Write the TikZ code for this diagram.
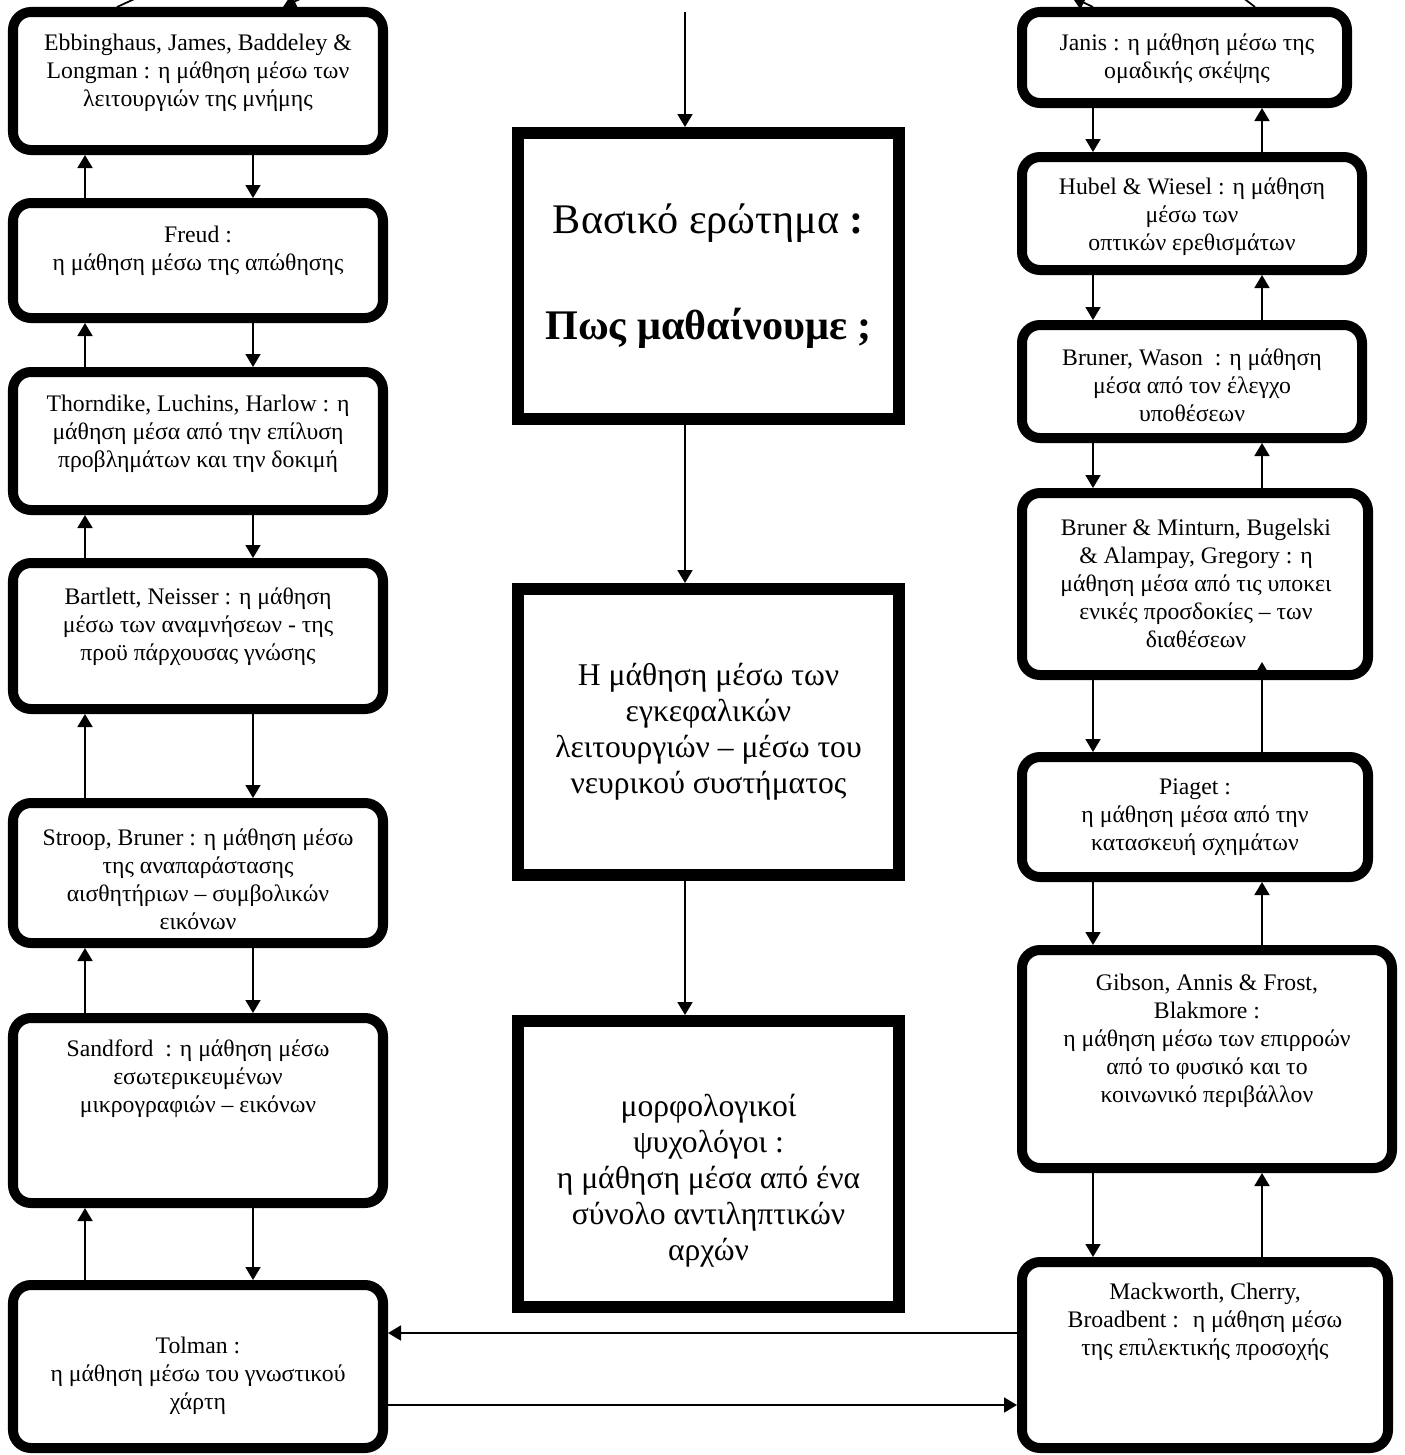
\documentclass[tikz,border=0pt]{standalone}
\usepackage{fontspec}
\setmainfont{Liberation Serif}
\usetikzlibrary{arrows.meta, positioning}

\begin{document}
\begin{tikzpicture}[
  x=0.02cm, y=-0.02cm,
  sbox/.style={draw, line width=5.7pt, rounded corners=0.36cm, inner sep=0pt, outer sep=2.85pt},
  mbox/.style={draw, line width=6.8pt, inner sep=0pt, outer sep=3.4pt, align=center,
    minimum width=381*0.02cm, minimum height=286*0.02cm},
  dims/.style 2 args={minimum width=#1*0.02cm, minimum height=#2*0.02cm},
  stxt/.style={align=center, inner sep=0pt, font=\fontsize{13.5}{16}\selectfont},
  mtxt/.style={align=center, inner sep=0pt, font=\fontsize{18}{20.5}\selectfont},
  conn/.style={line width=1pt, -{Triangle[length=0.26cm, width=0.3cm]}},
  tie/.style={line width=1pt}
]

\useasboundingbox (0,0) rectangle (1405,1455);
\clip (0,0) rectangle (1405,1455);

% columns and rows of the connectors
\coordinate (lu) at (85,0);
\coordinate (ld) at (253,0);
\coordinate (mc) at (685,0);
\coordinate (rd) at (1093,0);
\coordinate (ru) at (1262,0);
\coordinate (hu) at (0,1333);
\coordinate (hd) at (0,1405);

% left column
\node[sbox, dims={370}{138}] (ebb) at (198,81) {};
\node[stxt] (ebbtxt) at (198,72.5) {Ebbinghaus, James, Baddeley \&\\Longman : η μάθηση μέσω των\\λειτουργιών της μνήμης};

\node[sbox, dims={370}{115}] (freud) at (198,260.5) {};
\node[stxt] (freudtxt) at (198,251) {Freud :\\η μάθηση μέσω της απώθησης};

\node[sbox, dims={370}{138}] (thorn) at (198,441) {};
\node[stxt] (thorntxt) at (198,433.5) {Thorndike, Luchins, Harlow : η\\μάθηση μέσα από την επίλυση\\προβλημάτων και την δοκιμή};

\node[sbox, dims={370}{146}] (bart) at (198,636) {};
\node[stxt] (barttxt) at (198,626.5) {Bartlett, Neisser : η μάθηση\\μέσω των αναμνήσεων - της\\προϋ πάρχουσας γνώσης};

\node[sbox, dims={370}{140}] (stroop) at (198,873) {};
\node[stxt] (strooptxt) at (198,879) {Stroop, Bruner : η μάθηση μέσω\\της αναπαράστασης\\αισθητήριων – συμβολικών\\εικόνων};

\node[sbox, dims={370}{185}] (sand) at (198,1110.5) {};
\node[stxt] (sandtxt) at (198,1079) {Sandford \ : η μάθηση μέσω\\εσωτερικευμένων\\μικρογραφιών – εικόνων};

\node[sbox, dims={370}{163}] (tol) at (198,1366.5) {};
\node[stxt] (toltxt) at (198,1376) {Tolman :\\η μάθηση μέσω του γνωστικού\\χάρτη};

% middle column
\node[mbox, font=\fontsize{24}{28}\selectfont] (basic) at (708.5,276) {Βασικό ερώτημα \textbf{:}\\[32pt]\textbf{Πως μαθαίνουμε ;}};
\node[mbox, font=\fontsize{18}{20.5}\selectfont] (brain) at (708.5,732) {Η μάθηση μέσω των\\εγκεφαλικών\\λειτουργιών – μέσω του\\νευρικού συστήματος};
\node[mbox] (gestalt) at (708.5,1164) {};
\node[mtxt] (gestalttxt) at (708.5,1181) {μορφολογικοί\\ψυχολόγοι :\\η μάθηση μέσα από ένα\\σύνολο αντιληπτικών\\αρχών};

% right column
\node[sbox, dims={325}{91}] (janis) at (1184.5,57.5) {};
\node[stxt] (janistxt) at (1187,58.5) {Janis : η μάθηση μέσω της\\ομαδικής σκέψης};

\node[sbox, dims={340}{113}] (hubel) at (1192,213.5) {};
\node[stxt] (hubeltxt) at (1192,216.5) {Hubel \& Wiesel : η μάθηση\\μέσω των\\ οπτικών ερεθισμάτων};

\node[sbox, dims={340}{113}] (wason) at (1192,381.5) {};
\node[stxt] (wasontxt) at (1192,385) {Bruner, Wason \ : η μάθηση\\μέσα από τον έλεγχο\\υποθέσεων};

\node[sbox, dims={346}{182}] (mint) at (1195,584) {};
\node[stxt] (minttxt) at (1196,583.5) {Bruner \& Minturn, Bugelski\\\& Alampay, Gregory : η\\μάθηση μέσα από τις υποκει\\ενικές προσδοκίες – των\\διαθέσεων};

\node[sbox, dims={346}{120}] (piaget) at (1195,817) {};
\node[stxt] (piagettxt) at (1195,817) {Piaget :\\η μάθηση μέσα από την\\κατασκευή σχημάτων};

\node[sbox, dims={370}{218}] (gibson) at (1207,1059) {};
\node[stxt] (gibsontxt) at (1207,1041) {Gibson, Annis \& Frost,\\Blakmore :\\η μάθηση μέσω των επιρροών\\από το φυσικό και το\\κοινωνικό περιβάλλον};

\node[sbox, dims={366}{186}] (mack) at (1205,1355) {};
\node[stxt] (macktxt) at (1205,1322) {Mackworth, Cherry,\\Broadbent : \ η μάθηση μέσω\\της επιλεκτικής προσοχής};

% lines coming in from above the page
\coordinate (offa) at (154,-10);
\coordinate (ina) at (117,0);
\coordinate (offb) at (319,-10);
\coordinate (inb) at (283,0);
\coordinate (offc) at (1072,-3);
\coordinate (offd) at (1233,-10);
\coordinate (ind) at (1255,0);
\coordinate (qin) at (685,12);

\draw[tie] (offa) -- (ebb.north -| ina);
\draw[conn] (offb) -- (ebb.north -| inb);
\draw[conn] (janis.north -| rd) -- (offc);
\draw[tie] (janis.north -| ind) -- (offd);

% middle connectors
\draw[conn] (qin) -- (basic.north -| mc);
\draw[conn] (basic.south -| mc) -- (brain.north -| mc);
\draw[conn] (brain.south -| mc) -- (gestalt.north -| mc);

% left connectors
\draw[conn] (freud.north -| lu) -- (ebb.south -| lu);
\draw[conn] (ebb.south -| ld) -- (freud.north -| ld);
\draw[conn] (thorn.north -| lu) -- (freud.south -| lu);
\draw[conn] (freud.south -| ld) -- (thorn.north -| ld);
\draw[conn] (bart.north -| lu) -- (thorn.south -| lu);
\draw[conn] (thorn.south -| ld) -- (bart.north -| ld);
\draw[conn] (stroop.north -| lu) -- (bart.south -| lu);
\draw[conn] (bart.south -| ld) -- (stroop.north -| ld);
\draw[conn] (sand.north -| lu) -- (stroop.south -| lu);
\draw[conn] (stroop.south -| ld) -- (sand.north -| ld);
\draw[conn] (tol.north -| lu) -- (sand.south -| lu);
\draw[conn] (sand.south -| ld) -- (tol.north -| ld);

% right connectors
\draw[conn] (janis.south -| rd) -- (hubel.north -| rd);
\draw[conn] (hubel.north -| ru) -- (janis.south -| ru);
\draw[conn] (hubel.south -| rd) -- (wason.north -| rd);
\draw[conn] (wason.north -| ru) -- (hubel.south -| ru);
\draw[conn] (wason.south -| rd) -- (mint.north -| rd);
\draw[conn] (mint.north -| ru) -- (wason.south -| ru);
\draw[conn] (mint.south -| rd) -- (piaget.north -| rd);
\draw[conn, shorten >=-0.36cm] (piaget.north -| ru) -- (mint.south -| ru);
\draw[conn] (piaget.south -| rd) -- (gibson.north -| rd);
\draw[conn] (gibson.north -| ru) -- (piaget.south -| ru);
\draw[conn] (gibson.south -| rd) -- (mack.north -| rd);
\draw[conn] (mack.north -| ru) -- (gibson.south -| ru);

% across the bottom
\draw[conn] (mack.west |- hu) -- (tol.east |- hu);
\draw[conn] (tol.east |- hd) -- (mack.west |- hd);

\end{tikzpicture}
\end{document}
